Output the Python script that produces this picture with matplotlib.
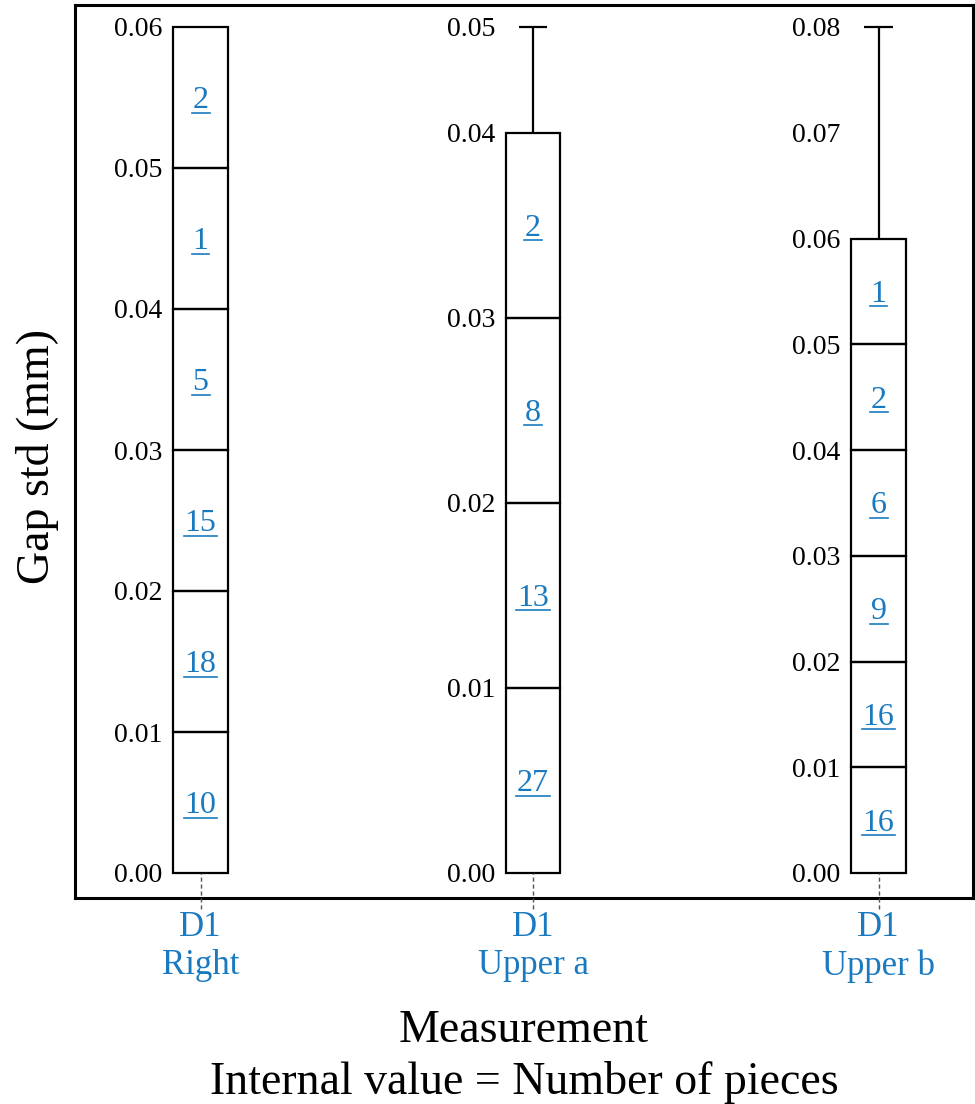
"""
stacked piece-count columns for gap std per measurement
output: out.png
"""

import numpy as np
import matplotlib.pyplot as plt
from matplotlib.lines import Line2D
from matplotlib.transforms import offset_copy

# -- DATA --
categories = ["D1\nRight", "D1\nUpper a", "D1\nUpper b"]
bin_step = 0.01
right_counts = [10, 18, 15, 5, 1, 2]
upper_a_counts = [27, 13, 8, 2]
upper_b_counts = [16, 16, 9, 6, 2, 1]
whisker_tops = [None, 0.05, 0.08]
y_max = [0.06, 0.05, 0.08]

# -- STYLE --
plt.rcParams["font.family"] = ["Liberation Serif", "DejaVu Serif"]
BLUE = "#1a7ac0"
W, H = 975, 1104
WHISKER_FRAC = 105.75 / 846  # axis fraction used by one bin of whisker

fig = plt.figure(figsize=(W / 100, H / 100), dpi=100)

# outer frame
frame = fig.add_axes([75 / W, 1 - 898 / H, 898 / W, 893 / H])
frame.set_xticks([])
frame.set_yticks([])
for s in frame.spines.values():
    s.set_linewidth(2.2)
frame.set_ylabel("Gap std (mm)", fontsize=33)
frame.yaxis.set_label_coords(-0.018, 0.494)
frame.set_xlabel("Measurement\nInternal value = Number of pieces", fontsize=33,
                 linespacing=1.28)
frame.xaxis.set_label_coords(0.5, -0.125)
frame.xaxis.label.set_va("top")

# column boxes, each with its own y scale
box_x = [(173, 228), (506, 560), (851, 906)]
y_bot, y_top = 873, 27
all_counts = [right_counts, upper_a_counts, upper_b_counts]
count_texts = []

for (x0, x1), label, counts, wtop, ymax in zip(box_x, categories, all_counts,
                                               whisker_tops, y_max):
    ax = fig.add_axes([x0 / W, 1 - y_bot / H, (x1 - x0) / W, (y_bot - y_top) / H])
    ax.patch.set_alpha(0)
    for s in ax.spines.values():
        s.set_visible(False)

    bottoms = np.arange(len(counts)) * bin_step
    box_top = bottoms[-1] + bin_step

    # box gets the room the whisker leaves over (piecewise linear y scale)
    if wtop is None:
        knots_y, knots_f = [0, box_top], [0, 1]
    else:
        w_frac = WHISKER_FRAC * (wtop - box_top) / bin_step
        knots_y, knots_f = [0, box_top, wtop], [0, 1 - w_frac, 1]
    ax.set_yscale("function", functions=(
        lambda y, ky=knots_y, kf=knots_f: np.interp(y, ky, kf, left=-1, right=2),
        lambda f, ky=knots_y, kf=knots_f: np.interp(f, kf, ky)))

    ax.bar(np.zeros(len(counts)), bin_step, bottom=bottoms, width=1.0,
           fill=False, edgecolor="black", linewidth=1.6, clip_on=False)

    for b, n in zip(bottoms, counts):
        t = ax.text(0, b + bin_step / 2, str(n), ha="center", va="baseline",
                    color=BLUE, fontsize=23,
                    transform=offset_copy(ax.transData, fig=fig, y=-7.6,
                                          units="points"))
        count_texts.append((t, ax, b + bin_step / 2))

    if wtop is not None:
        ax.vlines(0, box_top, wtop, color="black", linewidth=1.6, clip_on=False)
        ax.hlines(wtop, -0.26, 0.26, color="black", linewidth=1.6, clip_on=False)

    # dashed stub under the box
    ax.axvline(0, ymin=-0.042, ymax=0, color="#555555", linewidth=1.0,
               linestyle=(0, (3, 2)), clip_on=False)

    ax.set_xlim(-0.5, 0.5)
    ax.set_ylim(0, ymax)
    ticks = np.arange(0, ymax + 1e-9, bin_step)
    ax.set_yticks(ticks)
    ax.set_yticklabels([f"{v:.2f}" for v in ticks])
    ax.yaxis.set_minor_locator(plt.NullLocator())
    ax.tick_params(axis="y", length=0, pad=8, labelsize=20)
    ax.set_xticks([0])
    ax.set_xticklabels([label], color=BLUE, fontsize=25, linespacing=1.22)
    ax.tick_params(axis="x", length=0, pad=27)

# underline the counts (hyperlink look)
fig.canvas.draw()
renderer = fig.canvas.get_renderer()
inv = fig.transFigure.inverted()
for t, ax, yc in count_texts:
    bb = t.get_window_extent(renderer)
    base_y = ax.transData.transform((0, yc))[1] - 7.6 * fig.dpi / 72
    y_line = base_y - 4.5
    (fx0, fy), (fx1, _) = inv.transform([(bb.x0 - 1, y_line), (bb.x1 + 1, y_line)])
    fig.add_artist(Line2D([fx0, fx1], [fy, fy], color=BLUE, linewidth=1.2))

plt.savefig("out.png", dpi=100)
